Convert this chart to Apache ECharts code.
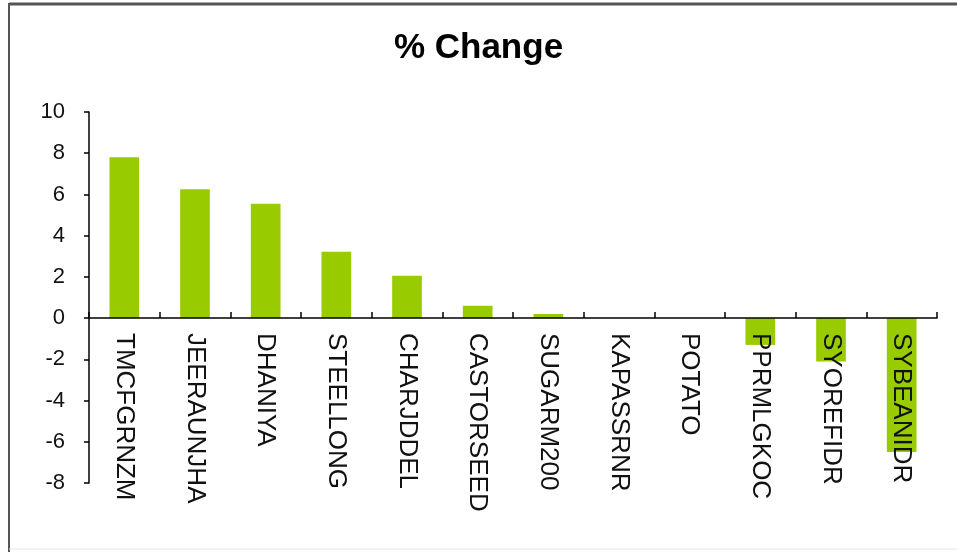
<!DOCTYPE html>
<html>
<head>
<meta charset="utf-8">
<script src="https://cdn.jsdelivr.net/npm/echarts@6/dist/echarts.min.js"></script>
<style>
html,body{margin:0;padding:0;background:#fff;}
#c{width:957px;height:557px;}
</style>
</head>
<body>
<div id="c"></div>
<script>
const categories = ["TMCFGRNZM","JEERAUNJHA","DHANIYA","STEELLONG","CHARJDDEL","CASTORSEED","SUGARM200","KAPASSRNR","POTATO","PPRMLGKOC","SYOREFIDR","SYBEANIDR"];
const changeValues = [7.8, 6.25, 5.55, 3.22, 2.05, 0.6, 0.2, 0, 0, -1.3, -2.1, -6.5];
const yTicks = {min: -8, max: 10, interval: 2};
const titleText = "% Change";

const chart = echarts.init(document.getElementById('c'));
chart.setOption({
  backgroundColor: '#ffffff',
  animation: false,
  title: {
    text: titleText,
    left: 'center',
    top: 26,
    textStyle: {fontFamily: 'Liberation Sans, Arial', fontWeight: 'bold', fontSize: 35, color: '#000'}
  },
  graphic: [
    {type: 'line', shape: {x1: 9, y1: 4, x2: 957, y2: 4}, style: {stroke: '#555', lineWidth: 3}},
    {type: 'line', shape: {x1: 9, y1: 3, x2: 9, y2: 552}, style: {stroke: '#555', lineWidth: 2}},
    {type: 'line', shape: {x1: 9, y1: 549, x2: 957, y2: 549}, style: {stroke: '#e6e6e6', lineWidth: 1}}
  ],
  grid: {left: 89, right: 20, top: 112, bottom: 74, containLabel: false, outerBoundsMode: 'none'},
  xAxis: {
    type: 'category',
    data: categories,
    z: 5,
    axisLine: {onZero: true, lineStyle: {color: '#000', width: 1.5}},
    axisTick: {show: true, inside: true, length: 6, lineStyle: {color: '#000', width: 1.5}},
    axisLabel: {
      rotate: -90, margin: -150, interval: 0,
      fontFamily: 'Liberation Sans, Arial', fontSize: 26, color: '#111'
    },
    splitLine: {show: false}
  },
  yAxis: {
    type: 'value',
    min: yTicks.min, max: yTicks.max, interval: yTicks.interval,
    axisLine: {show: true, lineStyle: {color: '#000', width: 1.5}},
    axisTick: {show: true, inside: false, length: 5, lineStyle: {color: '#000', width: 1.5}},
    axisLabel: {margin: 24, fontFamily: 'Liberation Sans, Arial', fontSize: 22, color: '#111'},
    splitLine: {show: false}
  },
  series: [{
    type: 'bar',
    data: changeValues,
    barWidth: '42%',
    z: 2,
    itemStyle: {color: '#99cc00'}
  }]
});
</script>
</body>
</html>
